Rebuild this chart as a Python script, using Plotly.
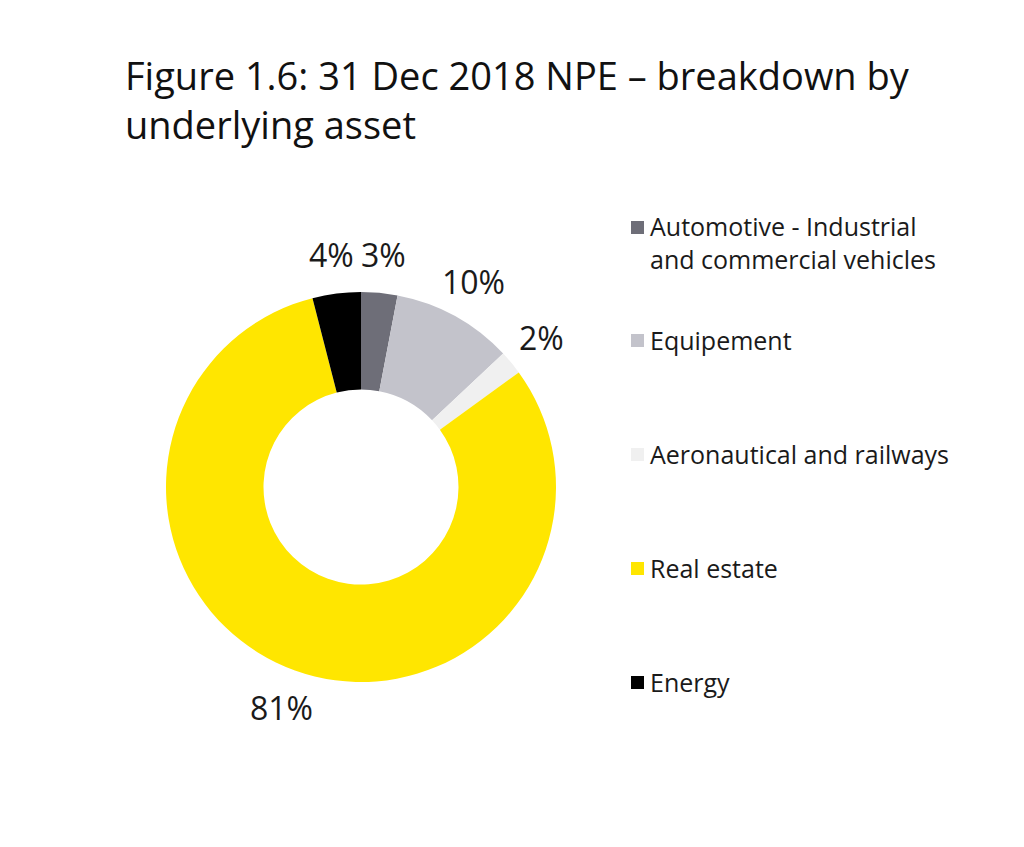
import math
import plotly.graph_objects as go

labels = ["Automotive - Industrial<br>and commercial vehicles", "Equipement",
          "Aeronautical and railways", "Real estate", "Energy"]
values = [3, 10, 2, 81, 4]
colors = ["#6e6e78", "#c3c3cb", "#f0f0f0", "#ffe600", "#000000"]
pct_text = ["3%", "10%", "2%", "81%", "4%"]

W, H = 1024, 847
CX, CY, R = 361, 487, 195  # pie centre / outer radius in px (layout)
LABEL_R = 234

fig = go.Figure()
fig.add_trace(go.Pie(
    labels=labels, values=values, textinfo="none",
    hole=0.5, sort=False, direction="clockwise",
    rotation=0, marker=dict(colors=colors, line=dict(width=0)),
    domain=dict(x=[(CX - R) / W, (CX + R) / W], y=[(H - CY - R) / H, (H - CY + R) / H]),
    showlegend=False, hoverinfo="label+percent",
))

# Percentage labels placed outside each slice at its mid-angle
total = sum(values)
cum = 0
for v, t in zip(values, pct_text):
    theta = 2 * math.pi * (cum + v / 2) / total
    cum += v
    px = CX + LABEL_R * math.sin(theta)
    py = CY - LABEL_R * math.cos(theta)
    fig.add_annotation(x=px / W, y=(H - py) / H, xref="paper", yref="paper",
                       text=t, showarrow=False, xanchor="center", yanchor="middle",
                       font=dict(family="Open Sans", size=32, color="#1a1a1a"))

# Custom legend (widely spaced entries, as in the reference)
leg_x = 631
leg_y = [242, 340, 454, 568, 682]
for lab, col, y in zip(labels, colors, leg_y):
    first_line_y = y - 15 if "<br>" in lab else y
    fig.add_shape(type="rect", xref="paper", yref="paper",
                  x0=leg_x / W, x1=(leg_x + 13) / W,
                  y0=(H - first_line_y - 7) / H, y1=(H - first_line_y + 6) / H,
                  fillcolor=col, line=dict(width=0))
    fig.add_annotation(x=(leg_x + 17) / W, y=(H - y) / H, xref="paper", yref="paper",
                       text=lab, showarrow=False, xanchor="left", yanchor="middle",
                       align="left",
                       font=dict(family="Open Sans", size=25, color="#1a1a1a"))

fig.update_layout(
    width=W, height=H, margin=dict(l=0, r=0, t=0, b=0),
    paper_bgcolor="white", plot_bgcolor="white",
    title=dict(text="Figure 1.6: 31 Dec 2018 NPE – breakdown by<br>underlying asset",
               x=125 / W, xanchor="left", y=(H - 90) / H, yanchor="top",
               font=dict(family="Open Sans", size=38, color="#111111")),
)
fig.write_html("out.html")
